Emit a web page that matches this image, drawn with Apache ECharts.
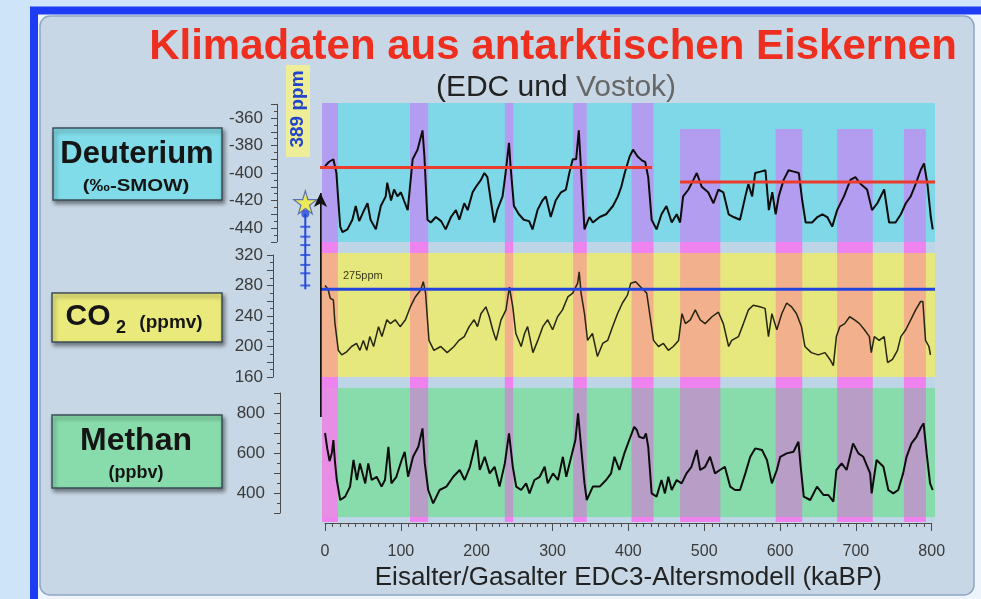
<!DOCTYPE html>
<html>
<head>
<meta charset="utf-8">
<script src="https://cdn.jsdelivr.net/npm/echarts@6/dist/echarts.min.js"></script>
<style>
  html, body { margin: 0; padding: 0; background: #cde4f9; }
  #chart { width: 981px; height: 599px; }
</style>
</head>
<body>
<div id="chart"></div>
<script>
// ---- values (age in kaBP) ----
const dAge = [0, 5, 11, 15, 17.5, 20, 23, 29.5, 36, 40.5, 45, 51.5, 56, 60, 67, 73.5, 80, 82, 87, 91, 95.5, 100, 104, 109,
  115.5, 122, 128.5, 131, 135, 139.5, 146, 153, 159, 166, 172.5, 177, 183.5, 188, 194.5, 199, 205.5, 210, 214, 218.5, 223,
  227, 234, 238, 242.5, 244.5, 249, 255.5, 262, 269, 273.5, 280, 286.5, 291, 297.5, 304, 311, 317.5, 322, 326.5, 331, 334.5,
  337.5, 342, 348.5, 353, 362, 370.5, 379.5, 386, 390.5, 395, 401.5, 406, 412, 418, 422, 426, 430.5, 437, 443.5, 450, 457,
  463.5, 468, 472, 479, 485.5, 490, 496.5, 505, 512, 518.5, 525, 532, 538.5, 547, 554, 558, 563, 567, 574, 580.5, 585, 589.5,
  594, 598, 604.5, 611, 618, 624.5, 629, 633.5, 642, 649, 655.5, 662, 668.5, 675, 684, 692.5, 699, 706, 714.5, 721, 728, 737,
  743.5, 752, 759, 765.5, 772, 778.5, 785, 789.5, 794, 798.5, 801];
const dVal = [-395, -392, -390, -400, -420, -439, -443, -441, -434, -424, -435, -427, -422, -434, -441, -424,
  -417, -407, -420, -412, -417, -414, -420, -427, -390, -383, -369, -388, -434, -436, -432, -435, -441, -432, -427, -434,
  -422, -427, -414, -410, -405, -400, -403, -420, -436, -427, -417, -400, -378, -395, -424, -430, -434, -435, -441, -427,
  -420, -417, -432, -420, -414, -412, -400, -390, -390, -369, -398, -441, -432, -436, -432, -430, -424, -417, -410, -400,
  -388, -383, -388, -391, -392, -403, -434, -441, -430, -424, -436, -430, -436, -417, -412, -405, -400, -410, -414, -422,
  -412, -414, -430, -432, -434, -417, -408, -417, -400, -399, -398, -427, -414, -430, -417, -405, -398, -399, -400, -420,
  -436, -436, -432, -430, -432, -439, -427, -417, -405, -403, -408, -412, -427, -422, -412, -436, -436, -430, -422, -417,
  -408, -398, -393, -408, -432, -441];

const cAge = [0, 4, 7, 11, 13, 17.5, 22, 28.5, 35, 41.5, 46, 50.5, 55, 59, 64, 70.5, 75, 81.5, 86, 92.5, 99, 106, 112.5,
  119, 126, 129.5, 132.5, 137, 143.5, 152.5, 161, 170, 176.5, 183.5, 190, 196.5, 201, 205.5, 212, 216.5, 221, 225.5, 232,
  238.5, 243, 247.5, 251.5, 258.5, 263, 267, 274, 280.5, 287, 293.5, 300, 306.5, 313, 320, 326.5, 333, 335, 337.5, 342, 346,
  352.5, 359, 366, 372.5, 379, 385.5, 392, 398.5, 403, 409.5, 416, 420, 424, 428.5, 433, 439.5, 446, 452.5, 459, 466, 470.5,
  475, 481.5, 488, 494.5, 501, 510, 518.5, 525, 532, 536, 545, 551.5, 558, 564.5, 573, 580, 584.5, 589, 595.5, 602, 608.5,
  615, 621.5, 628, 632.5, 641, 650, 659, 665.5, 670, 674, 678.5, 685, 691.5, 698, 704.5, 711, 717.5, 720, 724, 730.5, 737,
  741.5, 748, 754.5, 759, 765.5, 772, 778.5, 785, 788, 791.5, 796, 798];
const cVal = [280, 275, 263, 261, 231, 195, 189, 193, 200, 204, 195, 208, 195, 213, 200, 226, 213, 235, 230, 235, 226, 235,
  252, 265, 274, 285, 270, 208, 195, 200, 192, 200, 208, 213, 226, 235, 226, 243, 252, 239, 222, 208, 235, 248, 278, 252,
  217, 200, 217, 226, 192, 208, 226, 235, 222, 239, 248, 265, 270, 283, 298, 270, 243, 208, 217, 187, 204, 208, 226, 243,
  257, 267, 283, 285, 278, 274, 270, 239, 208, 200, 204, 195, 200, 208, 243, 230, 235, 248, 235, 230, 239, 245, 230, 200,
  208, 213, 230, 248, 254, 252, 250, 213, 243, 222, 243, 257, 252, 243, 226, 200, 192, 189, 192, 183, 175, 213, 226, 230,
  239, 235, 230, 222, 213, 192, 213, 208, 213, 179, 183, 195, 213, 222, 235, 248, 259, 259, 208, 200, 189];

const mAge = [0, 3, 6, 9, 11, 13, 15.5, 20, 26.5, 33, 37.5, 42, 46, 53, 57, 61.5, 68, 74.5, 79, 83.5, 87.5, 94, 101, 105,
  109.5, 116, 123, 128.5, 131.5, 136, 142.5, 151, 160, 169, 177.5, 184, 191, 199.5, 204, 210.5, 217, 223.5, 230, 237, 242.5,
  247.5, 252, 258.5, 265, 269.5, 276, 283, 289.5, 293.5, 300.5, 307, 313.5, 318, 324.5, 330, 333.5, 337.5, 342, 345, 353,
  362, 370.5, 377, 381.5, 388, 394.5, 401, 407.5, 411, 414, 420, 423, 426, 430.5, 437, 443.5, 448, 452.5, 457, 463.5, 470,
  476.5, 483, 490, 494.5, 501, 507.5, 514, 520.5, 527, 534, 540.5, 547, 554, 560.5, 567, 576, 582.5, 589, 595.5, 600, 608.5,
  617.5, 624, 627, 631, 639.5, 648.5, 657, 663.5, 670, 674, 681, 687.5, 696, 703, 709.5, 718.5, 720.5, 727, 736, 742.5, 749,
  755.5, 762, 766.5, 773, 779.5, 786, 789, 793, 797.5, 801];
const mVal = [700, 620, 560, 600, 665, 560, 465, 365, 382, 432, 565, 465, 548, 448, 548, 465, 481, 432, 465, 631, 448, 481,
  565, 606, 481, 581, 631, 723, 548, 415, 348, 415, 432, 481, 515, 465, 531, 665, 515, 581, 498, 531, 432, 548, 698, 531,
  432, 415, 448, 398, 465, 481, 531, 448, 498, 465, 581, 481, 581, 665, 798, 631, 448, 365, 432, 432, 465, 498, 581, 515,
  598, 665, 731, 715, 681, 673, 698, 631, 398, 382, 465, 398, 481, 415, 465, 448, 498, 531, 615, 515, 531, 581, 498, 515,
  531, 432, 415, 415, 498, 581, 623, 615, 565, 448, 515, 581, 598, 606, 656, 531, 382, 365, 432, 390, 390, 357, 515, 548,
  515, 648, 598, 581, 498, 398, 565, 531, 415, 398, 415, 498, 581, 648, 681, 731, 748, 598, 448, 415];

// warm periods (interglacials), kaBP
const bandStart = [-4, 112, 237, 327, 404, 468, 594, 675, 763];
const bandEnd = [17, 136, 248, 345, 433, 521, 629, 722, 792];
const dBandTop = [null, null, null, null, null, -368, -368, -368, -368];

// reference levels and present-day marks
const dRefStart = [-53, 468];
const dRefEnd = [431, 804];
const dRefVal = [-396, -406.5];
const co2RefStart = -59;
const co2RefEnd = 804;
const co2Pre = 275;
const co2Now = 389;
const co2Bar = [280, 296, 307, 320, 333, 344, 357];
const co2BarTop = 374;
const barAge = -26;
const arrowAge = -6;
const ch4ArrowFrom = 780;
const ch4ArrowTo = 1900;

// ---- layout ----
const L = 322, R = 46;
const xMin = -4, xMax = 804;
const dMin = -450.18, dMax = -349.09;
const cMin = 160, cMax = 322.6;
const mMin = 280, mMax = 925;

const pts = (a, v) => a.map((x, i) => [x, v[i]]);
const font = '"Liberation Sans", Arial, sans-serif';
const axisColor = '#4a4a4a';

function hiddenAxis(i, min, max) {
  return { gridIndex: i, type: 'value', min: min, max: max, show: false };
}
function labelAxis(i, min, max, step, margin, showFn) {
  return {
    gridIndex: i, type: 'value', min: min, max: max, interval: step,
    axisLine: { show: true, lineStyle: { color: axisColor, width: 1 } },
    axisTick: { show: true, length: 6, lineStyle: { color: axisColor } },
    minorTick: { show: true, splitNumber: 2, length: 3, lineStyle: { color: axisColor } },
    splitLine: { show: false },
    axisLabel: { margin: margin, fontSize: 17, color: '#3a3a3a', fontFamily: font,
      formatter: v => showFn(v) ? String(v) : '' }
  };
}
function panelBg(color, min, max) {
  return [{ xAxis: xMin, yAxis: max, itemStyle: { color: color } }, { xAxis: xMax, yAxis: min }];
}

const gapBands = bandStart.map((s, i) => [{ xAxis: s }, { xAxis: bandEnd[i] }]);
const dBands = [panelBg('#7ed8e7', dMin, dMax)].concat(bandStart.map((s, i) => [
  { xAxis: s, yAxis: dBandTop[i] === null ? dMax : dBandTop[i] },
  { xAxis: bandEnd[i], yAxis: dMin }
]));
const cBands = [panelBg('#e6e77c', cMin, cMax)].concat(bandStart.map((s, i) => [
  { xAxis: s, yAxis: cMax }, { xAxis: bandEnd[i], yAxis: cMin }
]));
const mBands = [panelBg('#88dcab', mMin, mMax)].concat(bandStart.map((s, i) => [
  i === 0 ? { xAxis: s, yAxis: mMax, itemStyle: { color: '#e78ee4' } } : { xAxis: s, yAxis: mMax },
  { xAxis: bandEnd[i], yAxis: mMin }
]));

const starPath = 'path://M50,0 L61,35 L98,35 L68,57 L79,91 L50,70 L21,91 L32,57 L2,35 L39,35 Z';

function box(x, y, w, h, fill) {
  return { type: 'rect', z: 20, shape: { x: x, y: y, width: w, height: h },
    style: { fill: fill, stroke: '#3c4e58', lineWidth: 1.5,
      shadowBlur: 4, shadowOffsetX: 2, shadowOffsetY: 3, shadowColor: 'rgba(0,0,0,0.45)' } };
}
function txt(x, y, text, size, opts) {
  opts = opts || {};
  return { type: 'text', z: 21, x: x, y: y, rotation: opts.rotation || 0, scaleX: opts.sx || 1,
    style: { text: text, font: (opts.weight || 'bold') + ' ' + size + 'px ' + font,
      fill: opts.color || '#151515', align: opts.align || 'center', verticalAlign: 'middle',
      textAlign: opts.align || 'center', textVerticalAlign: 'middle' } };
}

// vertical segment from value 1 to value 2 at age value 0
function vSegment(color, width) {
  return function (params, api) {
    const p1 = api.coord([api.value(0), api.value(1)]);
    const p2 = api.coord([api.value(0), api.value(2)]);
    return { type: 'line', shape: { x1: p1[0], y1: p1[1], x2: p2[0], y2: p2[1] },
      style: { stroke: color, lineWidth: width } };
  };
}

const chart = echarts.init(document.getElementById('chart'));
chart.setOption({
  animation: false,
  backgroundColor: '#cde4f9',
  textStyle: { fontFamily: font },
  grid: [
    { left: L, right: R, top: 103, bottom: 77, show: true, backgroundColor: '#bdd5e6', borderWidth: 0 },
    { left: L, right: R, top: 103, height: 139 },
    { left: L, right: R, top: 253, height: 124 },
    { left: L, right: R, top: 388, height: 129 },
    { left: 277, width: 1, top: 104.25, height: 137.5 },
    { left: 273, width: 1, top: 255, height: 122 },
    { left: 280, width: 1, top: 393, height: 120 },
    { left: 325, right: 49.3, top: 522, height: 1 }
  ],
  xAxis: [
    hiddenAxis(0, xMin, xMax), hiddenAxis(1, xMin, xMax), hiddenAxis(2, xMin, xMax), hiddenAxis(3, xMin, xMax),
    hiddenAxis(4, 0, 1), hiddenAxis(5, 0, 1), hiddenAxis(6, 0, 1),
    {
      gridIndex: 7, type: 'value', min: 0, max: 800, interval: 100, position: 'bottom',
      axisLine: { show: true, lineStyle: { color: axisColor, width: 1 } },
      axisTick: { show: true, length: 8, lineStyle: { color: axisColor } },
      minorTick: { show: true, splitNumber: 10, length: 4, lineStyle: { color: axisColor } },
      splitLine: { show: false },
      axisLabel: { fontSize: 16, color: '#3a3a3a', margin: 21 },
      name: 'Eisalter/Gasalter EDC3-Altersmodell (kaBP)', nameLocation: 'middle', nameGap: 42,
      nameTextStyle: { fontSize: 26, color: '#222' }
    }
  ],
  yAxis: [
    hiddenAxis(0, 0, 1), hiddenAxis(1, dMin, dMax), hiddenAxis(2, cMin, cMax), hiddenAxis(3, mMin, mMax),
    labelAxis(4, -450, -350, 10, 14, v => v % 20 === 0),
    labelAxis(5, 160, 320, 20, 10, v => v % 40 === 0),
    labelAxis(6, 300, 900, 100, 15, v => v % 200 === 0 && v > 300 && v < 900),
    hiddenAxis(7, 0, 1)
  ],
  series: [
    { type: 'line', xAxisIndex: 0, yAxisIndex: 0, z: 0, data: [],
      markArea: { silent: true, itemStyle: { color: '#ee82ee' }, data: gapBands } },
    { type: 'line', xAxisIndex: 1, yAxisIndex: 1, z: 2, data: [],
      markArea: { silent: true, itemStyle: { color: '#b39df0' }, data: dBands } },
    { type: 'line', xAxisIndex: 2, yAxisIndex: 2, z: 2, data: [],
      markArea: { silent: true, itemStyle: { color: '#f3b08d' }, data: cBands } },
    { type: 'line', xAxisIndex: 3, yAxisIndex: 3, z: 2, data: [],
      markArea: { silent: true, itemStyle: { color: '#b89dc6' }, data: mBands } },

    { name: 'Deuterium', type: 'line', xAxisIndex: 1, yAxisIndex: 1, z: 3, showSymbol: false,
      data: pts(dAge, dVal), lineStyle: { color: '#0d0d0d', width: 2 } },
    { name: 'CO2', type: 'line', xAxisIndex: 2, yAxisIndex: 2, z: 3, showSymbol: false,
      data: pts(cAge, cVal), lineStyle: { color: '#26260f', width: 1.5 } },
    { name: 'Methan', type: 'line', xAxisIndex: 3, yAxisIndex: 3, z: 3, showSymbol: false,
      data: pts(mAge, mVal), lineStyle: { color: '#0d0d0d', width: 2 } },

    { type: 'line', xAxisIndex: 1, yAxisIndex: 1, z: 4, clip: false, showSymbol: false,
      data: [[dRefStart[0], dRefVal[0]], [dRefEnd[0], dRefVal[0]]], lineStyle: { color: '#ec3b2b', width: 3 } },
    { type: 'line', xAxisIndex: 1, yAxisIndex: 1, z: 4, clip: false, showSymbol: false,
      data: [[dRefStart[1], dRefVal[1]], [dRefEnd[1], dRefVal[1]]], lineStyle: { color: '#ec3b2b', width: 3 } },
    { type: 'line', xAxisIndex: 2, yAxisIndex: 2, z: 4, clip: false, showSymbol: false,
      data: [[co2RefStart, co2Pre], [co2RefEnd, co2Pre]], lineStyle: { color: '#2345dd', width: 3 } },

    // rise from pre-industrial to present CO2
    { type: 'custom', xAxisIndex: 2, yAxisIndex: 2, z: 5, clip: false,
      data: [[barAge, co2Pre, co2BarTop]], renderItem: vSegment('#2348dd', 2) },
    { type: 'scatter', xAxisIndex: 2, yAxisIndex: 2, z: 5, clip: false, symbol: 'rect', symbolSize: [10, 2],
      data: co2Bar.map(v => [barAge, v]), itemStyle: { color: '#2348dd' } },
    { type: 'scatter', xAxisIndex: 2, yAxisIndex: 2, z: 5, clip: false, symbol: 'circle', symbolSize: 8,
      data: [[barAge, co2BarTop]], itemStyle: { color: '#2348dd' } },
    { type: 'scatter', xAxisIndex: 2, yAxisIndex: 2, z: 6, clip: false, symbol: starPath, symbolSize: 23,
      data: [[barAge, co2Now]], itemStyle: { color: '#f5ec3a', borderColor: '#3f55a8', borderWidth: 1.2 } },
    // rise of methane to the present
    { type: 'line', xAxisIndex: 3, yAxisIndex: 3, z: 6, clip: false,
      data: [{ value: [arrowAge, ch4ArrowFrom], symbol: 'none' },
             { value: [arrowAge, ch4ArrowTo], symbol: 'arrow', symbolSize: [10, 14] }],
      lineStyle: { color: '#111', width: 2.5 }, itemStyle: { color: '#111' } }
  ],
  graphic: [
    { type: 'rect', z: -20, shape: { x: 34, y: 10.5, width: 1000, height: 700 },
      style: { fill: '#eef4fb', stroke: '#1e3cf3', lineWidth: 8 } },
    { type: 'rect', z: -19, shape: { x: 40, y: 16, width: 934, height: 579, r: 10 },
      style: { fill: '#c7d7e5', stroke: '#8ea6c6', lineWidth: 1.5 } },

    txt(553, 47, 'Klimadaten aus antarktischen Eiskernen', 42, { color: '#ee2f1f' }),
    { type: 'text', z: 21, x: 556, y: 88,
      style: { text: '{a|(EDC und }{b|Vostok)}', align: 'center', verticalAlign: 'middle',
        textAlign: 'center', textVerticalAlign: 'middle',
        rich: { a: { fill: '#222', color: '#222', fontSize: 30, fontFamily: font },
                b: { fill: '#676767', color: '#676767', fontSize: 30, fontFamily: font } } } },

    { type: 'rect', z: 15, shape: { x: 286, y: 65, width: 24, height: 92 }, style: { fill: '#eeee98' } },
    txt(298, 109, '389 ppm', 19, { rotation: Math.PI / 2, color: '#2244cc' }),
    txt(343, 276, '275ppm', 11, { weight: 'normal', align: 'left', color: '#3a3a1a' }),

    box(53, 128, 169, 72, '#80dce8'),
    txt(137, 154, 'Deuterium', 31),
    txt(136, 186, '(‰-SMOW)', 17, { sx: 1.2 }),
    box(52, 293, 170, 49, '#eaea7c'),
    txt(88, 317, 'CO', 30),
    txt(121, 328, '2', 18),
    txt(171, 323, '(ppmv)', 19),
    box(52, 415, 170, 73, '#88dcab'),
    txt(136, 441, 'Methan', 32),
    txt(136, 473, '(ppbv)', 18)
  ]
});
</script>
</body>
</html>
